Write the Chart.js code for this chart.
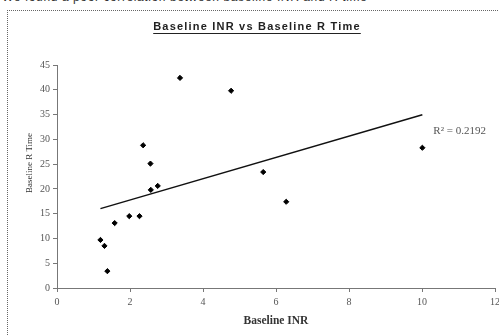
<!DOCTYPE html>
<html><head><meta charset="utf-8">
<script src="https://cdn.jsdelivr.net/npm/chart.js@4/dist/chart.umd.min.js"></script>
<style>
html,body{margin:0;padding:0;background:#fff;overflow:hidden;width:499px;height:336px;}
#top{position:absolute;left:2px;top:-10px;font:12px "Liberation Sans",Arial,sans-serif;color:#333;white-space:nowrap;letter-spacing:0.6px;}
#frame{position:absolute;left:7px;top:10px;width:600px;height:400px;border-left:1px dotted #666;border-top:1px dotted #666;}
#c{position:absolute;left:0;top:0;}
</style></head><body>
<div id="top">We found a poor correlation between baseline INR and R time</div>
<div id="frame"></div>
<canvas id="c" width="520" height="336"></canvas>
<script>
// Data
const inrValues   = [3.37, 4.77, 2.36, 2.56, 2.57, 2.76, 1.98, 2.26, 1.58, 1.19, 1.30, 1.38, 5.65, 6.28, 10.01];
const rTimeValues = [42.4, 39.8, 28.8, 25.1, 19.8, 20.6, 14.5, 14.5, 13.1, 9.7, 8.5, 3.4, 23.4, 17.4, 28.3];
const xTicks = [0, 2, 4, 6, 8, 10, 12];
const yTicks = [0, 5, 10, 15, 20, 25, 30, 35, 40, 45];
const chartTitle = 'Baseline INR vs Baseline R Time';
const xTitle = 'Baseline INR';
const yTitle = 'Baseline R Time';
const r2Label = 'R\u00B2 = 0.2192';

// Linear trendline (least squares) from the data
const n = inrValues.length;
const mx = inrValues.reduce((a,b)=>a+b,0)/n;
const my = rTimeValues.reduce((a,b)=>a+b,0)/n;
let sxy = 0, sxx = 0;
for (let i=0;i<n;i++){ sxy += (inrValues[i]-mx)*(rTimeValues[i]-my); sxx += (inrValues[i]-mx)**2; }
const slope = sxy/sxx, icpt = my - slope*mx;
const xMin = Math.min(...inrValues), xMax = Math.max(...inrValues);
const trend = [{x:xMin, y:icpt+slope*xMin}, {x:xMax, y:icpt+slope*xMax}];

const points = inrValues.map((x,i)=>({x, y:rTimeValues[i]}));

const textPlugin = {
  id: 'texts',
  afterDraw(chart){
    const ctx = chart.ctx;
    ctx.save();
    // main title, underlined
    ctx.font = 'bold 11px "Liberation Sans", Arial, sans-serif';
    ctx.letterSpacing = '1.2px';
    ctx.fillStyle = '#222';
    ctx.textAlign = 'center';
    ctx.textBaseline = 'middle';
    const cx = 257, cy = 27;
    ctx.fillText(chartTitle, cx, cy);
    const w = ctx.measureText(chartTitle).width;
    ctx.strokeStyle = '#222';
    ctx.lineWidth = 1;
    ctx.beginPath();
    ctx.moveTo(cx - w/2, cy + 6.5);
    ctx.lineTo(cx + w/2, cy + 6.5);
    ctx.stroke();
    ctx.letterSpacing = '0px';
    // y-axis title
    ctx.save();
    ctx.translate(30, 163);
    ctx.rotate(-Math.PI/2);
    ctx.font = '9px "Liberation Serif", "Times New Roman", serif';
    ctx.fillStyle = '#333';
    ctx.fillText(yTitle, 0, 0);
    ctx.restore();
    // R^2 label near end of trendline
    const xs = chart.scales.x, ys = chart.scales.y;
    const ex = xs.getPixelForValue(trend[1].x), ey = ys.getPixelForValue(trend[1].y);
    ctx.font = '11px "Liberation Serif", "Times New Roman", serif';
    ctx.fillStyle = '#555';
    ctx.textAlign = 'left';
    ctx.fillText(r2Label, ex + 11, ey + 16);
    ctx.restore();
  }
};

const tickFont = {family: '"Liberation Serif", "Times New Roman", serif', size: 10};
new Chart(document.getElementById('c'), {
  type: 'scatter',
  data: {
    datasets: [
      {type:'scatter', data: points, pointStyle:'rectRot', pointRadius:2.6, backgroundColor:'#000', borderColor:'#000', borderWidth:1, order:0},
      {type:'line', data: trend, borderColor:'#111', borderWidth:1.5, pointRadius:0, fill:false, order:1}
    ]
  },
  options: {
    responsive:false, animation:false, devicePixelRatio:1,
    layout:{padding:{top:65, right:25, left:0, bottom:0}},
    plugins:{legend:{display:false}, tooltip:{enabled:false}, title:{display:false}},
    scales:{
      x:{type:'linear', min:0, max:12,
        afterBuildTicks: s => { s.ticks = xTicks.map(v=>({value:v})); },
        afterFit: s => { s.height = 48; },
        ticks:{font:tickFont, color:'#555', padding:4, maxRotation:0},
        grid:{display:true, drawOnChartArea:false, tickLength:4, color:'#777'},
        border:{color:'#777', width:1},
        title:{display:true, text:xTitle, color:'#333', font:{family:'"Liberation Serif", "Times New Roman", serif', size:11.5, weight:'bold'}, padding:{top:0, bottom:8}}
      },
      y:{type:'linear', min:0, max:45,
        afterBuildTicks: s => { s.ticks = yTicks.map(v=>({value:v})); },
        afterFit: s => { s.width = 57; },
        ticks:{font:tickFont, color:'#555', padding:3},
        grid:{display:true, drawOnChartArea:false, tickLength:4, color:'#777'},
        border:{color:'#777', width:1}
      }
    }
  },
  plugins:[textPlugin]
});
</script>
</body></html>
